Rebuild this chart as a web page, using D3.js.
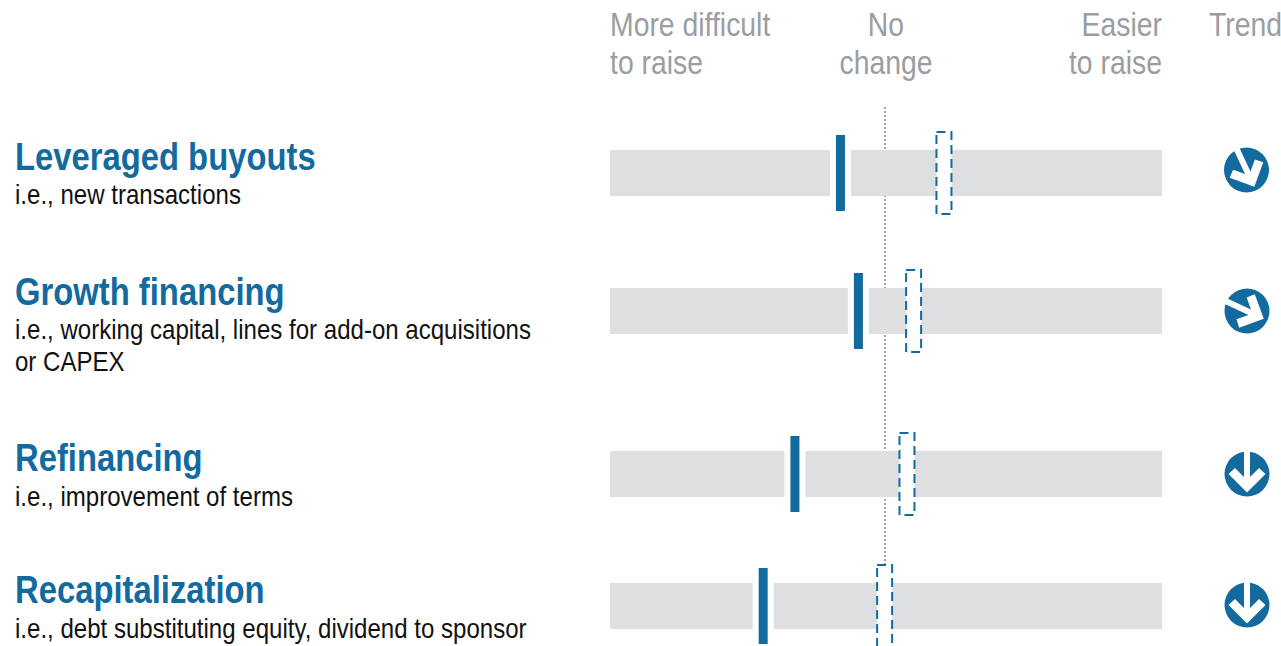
<!DOCTYPE html>
<html>
<head>
<meta charset="utf-8">
<script src="https://cdn.jsdelivr.net/npm/d3@7"></script>
<style>
  html, body { margin: 0; padding: 0; background: #fff; overflow: hidden; }
  svg { display: block; }
  text { font-family: "Liberation Sans", sans-serif; }
</style>
</head>
<body>
<div id="chart"></div>
<script>
// Chart data
var categories = ["Leveraged buyouts", "Growth financing", "Refinancing", "Recapitalization"];
var subLabels = [
  ["i.e., new transactions"],
  ["i.e., working capital, lines for add-on acquisitions", "or CAPEX"],
  ["i.e., improvement of terms"],
  ["i.e., debt substituting equity, dividend to sponsor"]
];
var currentValues = [-16.5, -10, -33, -44.5];
var previousValues = [21, 10, 7.6, -0.5];
// direction of the trend arrow, degrees below horizontal
var trendAngles = [65, 25, 90, 90];

var headers = [
  { lines: ["More difficult", "to raise"], at: -100, anchor: "start" },
  { lines: ["No", "change"], at: 0, anchor: "middle" },
  { lines: ["Easier", "to raise"], at: 100, anchor: "end" }
];

var svgWidth = 1281;
var svgHeight = 646;
var blue = "#136a9f";
var barGrey = "#dedfe1";
var headGrey = "#9a9da1";

var svg = d3.select("#chart")
  .append("svg")
  .attr("width", svgWidth)
  .attr("height", svgHeight);

var x = d3.scaleLinear().domain([-100, 100]).range([610, 1162]);
var rowTop = d3.scaleOrdinal(categories, [150, 288, 451, 583]);
var titleY = d3.scaleOrdinal(categories, [170, 305, 471, 603]);
var subY = d3.scaleOrdinal(categories, [204, 339, 506, 638]);
var trendX = d3.scaleOrdinal(categories, [1246.5, 1247, 1247, 1247]);
var trendY = d3.scaleOrdinal(categories, [170, 311, 474, 605]);
var barHeight = 46;

// no narrow font on the box, so squeeze the regular one sideways
function narrowText(parent, str, tx, ty, size, squeeze) {
  return parent.append("text")
    .attr("transform", `translate(${tx}, ${ty}) scale(${squeeze}, 1)`)
    .attr("font-size", size)
    .text(str);
}

// Column headers
headers.forEach(function (h) {
  h.lines.forEach(function (line, i) {
    narrowText(svg, line, x(h.at), 36 + i * 38, 33, 0.86)
      .attr("text-anchor", h.anchor)
      .attr("fill", headGrey);
  });
});
narrowText(svg, "Trend", 1209, 36, 33, 0.86).attr("fill", headGrey);

// No change line, behind everything
svg.append("line")
  .attr("x1", x(0) - 1)
  .attr("x2", x(0) - 1)
  .attr("y1", 107)
  .attr("y2", svgHeight)
  .attr("stroke", "#a3a5a8")
  .attr("stroke-width", 2)
  .attr("stroke-dasharray", "2 2");

var rows = svg.selectAll("g.row")
  .data(categories)
  .enter()
  .append("g")
  .attr("class", "row");

// Row labels
rows.each(function (d, i) {
  var g = d3.select(this);
  narrowText(g, d, 15, titleY(d), 38, 0.863)
    .attr("font-weight", "bold")
    .attr("fill", blue);
  subLabels[i].forEach(function (line, j) {
    narrowText(g, line, 15, subY(d) + j * 32, 27, 0.891).attr("fill", "#111");
  });
});

// Grey bars
rows.append("rect")
  .attr("x", x(-100))
  .attr("y", d => rowTop(d))
  .attr("width", x(100) - x(-100))
  .attr("height", barHeight)
  .attr("fill", barGrey);

// Previous period: dashed outline, white inside
rows.append("rect")
  .attr("x", (d, i) => x(previousValues[i]) - 7.5)
  .attr("y", d => rowTop(d) - 18)
  .attr("width", 15)
  .attr("height", 82)
  .attr("fill", "#fff")
  .attr("stroke", blue)
  .attr("stroke-width", 2)
  .attr("stroke-dasharray", "9 5");

// Current period: white gap, then the solid marker
rows.append("rect")
  .attr("x", (d, i) => x(currentValues[i]) - 10.5)
  .attr("y", d => rowTop(d))
  .attr("width", 21)
  .attr("height", barHeight)
  .attr("fill", "#fff");

rows.append("rect")
  .attr("x", (d, i) => x(currentValues[i]) - 4.5)
  .attr("y", d => rowTop(d) - 15)
  .attr("width", 9)
  .attr("height", 76)
  .attr("fill", blue);

// Trend arrows, built pointing right then rotated
var arrowPoints = [[-23, -3], [3, -3], [-6, -12], [0, -18.5], [18.5, 0], [0, 18.5], [-6, 12], [3, 3], [-23, 3]];
var arrowLine = d3.line();

var trend = rows.append("g")
  .attr("transform", d => `translate(${trendX(d)}, ${trendY(d)})`);

trend.append("circle")
  .attr("r", 22.5)
  .attr("fill", blue);

trend.append("path")
  .attr("d", arrowLine(arrowPoints) + "Z")
  .attr("fill", "#fff")
  .attr("transform", (d, i) => `rotate(${trendAngles[i]})`);
</script>
</body>
</html>
